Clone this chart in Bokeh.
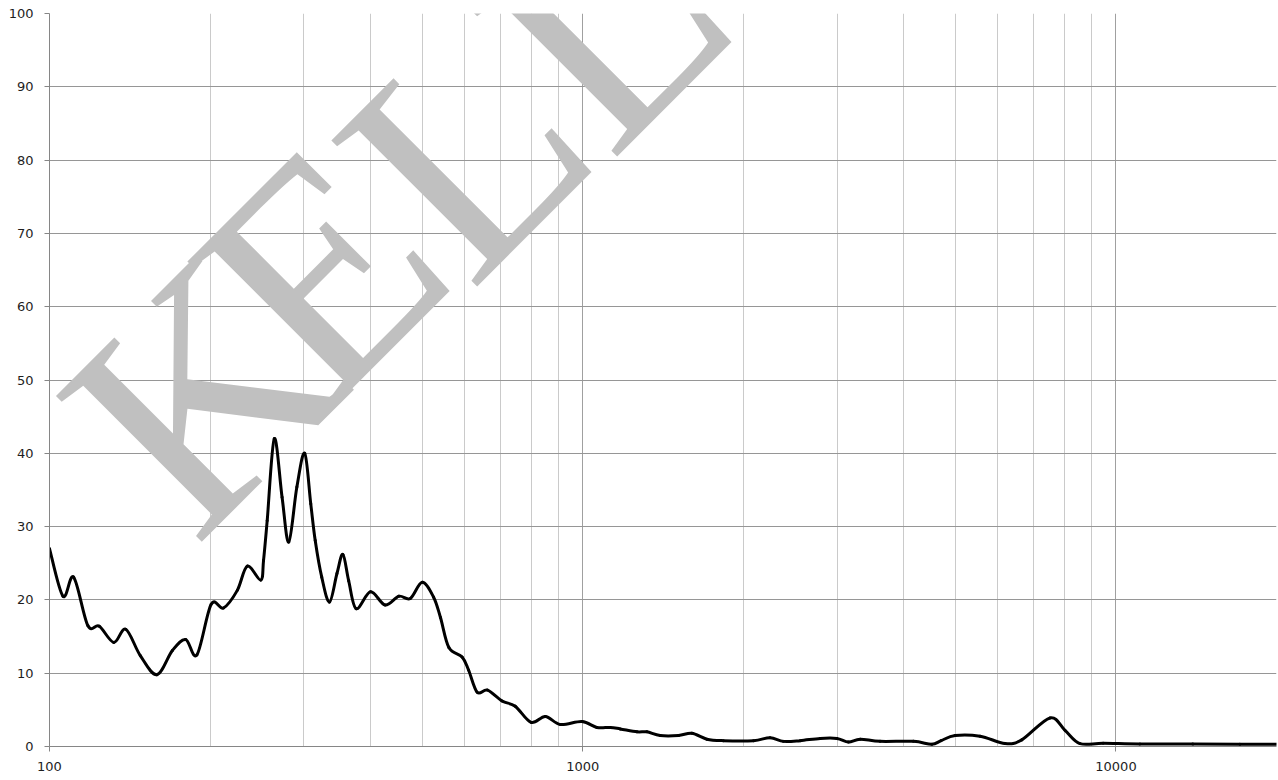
import math
from bokeh.plotting import figure
from bokeh.models import Range1d, FixedTicker, Label, PrintfTickFormatter
from bokeh.embed import file_html
from bokeh.resources import INLINE

freq_hz = [100, 106, 111, 118, 124, 132, 139, 148, 159, 170, 180, 189, 201, 212,
           225, 235, 249, 252, 256, 264, 273, 281, 291, 301, 309, 315, 324, 335,
           346, 355, 364, 376, 400, 426, 452, 475, 500, 525, 541, 561, 594, 611,
           634, 663, 706, 747, 800, 851, 908, 997, 1063, 1126, 1176, 1264, 1319,
           1397, 1512, 1602, 1709, 1836, 2090, 2246, 2379, 2557, 2788, 2996, 3150,
           3313, 3612, 4171, 4514, 4700, 4993, 5561, 6193, 6657, 7521, 8025, 8561,
           9467, 11090, 13940, 17080, 20000]
level = [27.0, 20.5, 23.1, 16.5, 16.4, 14.2, 16.0, 12.4, 9.8, 13.1, 14.6, 12.5, 19.4, 18.9,
         21.3, 24.6, 22.7, 25.4, 30.8, 42.0, 34.0, 27.9, 35.4, 40.0, 33.1, 28.1, 23.1, 19.7,
         23.6, 26.2, 22.6, 18.8, 21.1, 19.3, 20.5, 20.2, 22.4, 20.4, 17.6, 13.5, 12.2, 10.4,
         7.4, 7.7, 6.2, 5.5, 3.3, 4.1, 3.0, 3.4, 2.6, 2.6, 2.4, 2.0, 2.0,
         1.5, 1.5, 1.8, 1.0, 0.8, 0.8, 1.2, 0.7, 0.8, 1.1, 1.1, 0.6,
         1.0, 0.7, 0.7, 0.3, 0.8, 1.5, 1.4, 0.4, 0.9, 3.9, 2.2, 0.4,
         0.45, 0.35, 0.35, 0.3, 0.3]

x_major_ticks = [100, 1000, 10000]
x_minor_ticks = [200, 300, 400, 500, 600, 700, 800, 900,
                 2000, 3000, 4000, 5000, 6000, 7000, 8000, 9000]
y_ticks = [0, 10, 20, 30, 40, 50, 60, 70, 80, 90, 100]
watermark_letters = ["K", "E", "L", "L", "Y"]

p = figure(width=1278, height=780, x_axis_type="log",
           x_range=Range1d(100, 20000), y_range=Range1d(0, 100),
           output_backend="svg", toolbar_location=None,
           min_border_left=49, min_border_right=2, min_border_top=13, min_border_bottom=34)
p.outline_line_color = None
p.background_fill_color = "white"
p.border_fill_color = "white"

p.xaxis.ticker = FixedTicker(ticks=x_major_ticks, minor_ticks=x_minor_ticks)
p.xaxis.formatter = PrintfTickFormatter(format="%d")
p.yaxis.ticker = FixedTicker(ticks=y_ticks)

for ax in (p.xaxis[0], p.yaxis[0]):
    ax.axis_line_color = "#868686"
    ax.major_tick_line_color = "#868686"
    ax.major_tick_out = 5
    ax.major_tick_in = 0
    ax.minor_tick_line_color = None
    ax.major_label_text_font = "DejaVu Sans"
    ax.major_label_text_font_size = "13px"
    ax.major_label_text_color = "#1e1e1e"
p.yaxis.major_label_standoff = 11
p.xaxis.major_label_standoff = 10

p.ygrid.grid_line_color = "#969696"
p.xgrid.grid_line_color = "#a0a0a0"
p.xgrid.minor_grid_line_color = "#cacaca"

# watermark: one label per letter, centres in frame pixels
wm_pos = [(151, 354), (270, 476), (414, 597), (554, 727), (712, 884)]
for ch, (sx, sy) in zip(watermark_letters, wm_pos):
    p.add_layout(Label(x=sx, y=sy, x_units="screen", y_units="screen", text=ch,
                       angle=45, angle_units="deg", text_font="Liberation Serif",
                       text_font_size="315px", text_color="#c0c0c0",
                       text_align="center", text_baseline="middle", level="underlay"))

# smooth line through the points (Catmull-Rom as cubic Bezier segments in log-x space)
lx = [math.log10(f) for f in freq_hz]
n = len(lx)
x0, y0, x1, y1, cx0, cy0, cx1, cy1 = [], [], [], [], [], [], [], []
for i in range(n - 1):
    im = max(i - 1, 0)
    ip = min(i + 2, n - 1)
    x0.append(freq_hz[i]); y0.append(level[i])
    x1.append(freq_hz[i + 1]); y1.append(level[i + 1])
    cx0.append(10 ** (lx[i] + (lx[i + 1] - lx[im]) / 6))
    cy0.append(level[i] + (level[i + 1] - level[im]) / 6)
    cx1.append(10 ** (lx[i + 1] - (lx[ip] - lx[i]) / 6))
    cy1.append(level[i + 1] - (level[ip] - level[i]) / 6)
p.bezier(x0=x0, y0=y0, x1=x1, y1=y1, cx0=cx0, cy0=cy0, cx1=cx1, cy1=cy1,
         line_color="black", line_width=3, line_cap="round")

open("out.html", "w").write(file_html(p, INLINE))
